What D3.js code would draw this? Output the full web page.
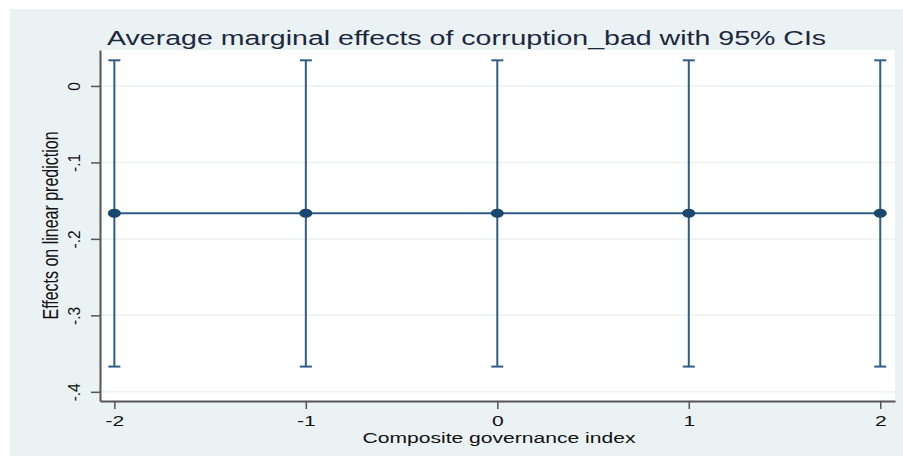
<!DOCTYPE html>
<html><head><meta charset="utf-8">
<script src="https://cdn.jsdelivr.net/npm/d3@7"></script>
<style>body{margin:0;background:#fff}svg{display:block}text{font-family:"Liberation Sans",Arial,sans-serif}</style>
</head><body><svg id="c" width="903" height="457"></svg>
<script>
const governance = [-2, -1, 0, 1, 2];
const effect = [-0.1665, -0.1665, -0.1665, -0.1665, -0.1665];
const ciLow = [-0.367, -0.367, -0.367, -0.367, -0.367];
const ciHigh = [0.0335, 0.0335, 0.0335, 0.0335, 0.0335];
const yTicks = [0, -0.1, -0.2, -0.3, -0.4];
const xTicks = [-2, -1, 0, 1, 2];
const title = "Average marginal effects of corruption_bad with 95% CIs";
const xTitle = "Composite governance index";
const yTitle = "Effects on linear prediction";

const svg = d3.select("#c");
const W = 903, H = 457;
const plot = {l: 100, r: 895, t: 50, b: 401};
const bg = "#eaf2f3", navy = "#1a476f", lineC = "#2f5d88";
const SX = 1.36; // horizontal stretch of text in the reference

svg.append("rect").attr("x",10).attr("y",9).attr("width",W-10).attr("height",H-10).attr("fill",bg);
svg.append("rect").attr("x",plot.l).attr("y",plot.t).attr("width",plot.r-plot.l).attr("height",plot.b-plot.t).attr("fill","#fff");

const x = d3.scaleLinear().domain([-2.075, 2.077]).range([plot.l, plot.r]);
const y = d3.scaleLinear().domain([-0.412, 0.047]).range([plot.b, plot.t]);

// gridlines
svg.append("g").selectAll("line").data(yTicks).join("line")
  .attr("x1",plot.l).attr("x2",plot.r).attr("y1",d=>y(d)).attr("y2",d=>y(d))
  .attr("stroke",bg).attr("stroke-width",1.5);

// y axis
const fmt = d => d===0 ? "0" : ("-" + String(Math.abs(d)).replace(/^0/,""));
const ya = svg.append("g").attr("transform",`translate(${plot.l},0)`)
  .call(d3.axisLeft(y).tickValues(yTicks).tickSize(9).tickSizeOuter(0).tickFormat(fmt));
ya.select(".domain").attr("stroke","#555").attr("stroke-width",2);
ya.selectAll(".tick line").attr("stroke","#555").attr("stroke-width",1.5);
ya.selectAll(".tick text").attr("transform","rotate(-90) scale(1,1.1)").attr("x",0).attr("y",-20/1.1)
  .attr("dy",0).attr("text-anchor","middle").attr("font-size",15.5).attr("fill","#111")
  .attr("font-family","Liberation Sans, Arial, sans-serif");

// x axis
const xa = svg.append("g").attr("transform",`translate(0,${plot.b})`)
  .call(d3.axisBottom(x).tickValues(xTicks).tickSize(8).tickSizeOuter(0).tickFormat(d=>String(d)));
xa.select(".domain").attr("stroke","#555").attr("stroke-width",2);
xa.selectAll(".tick line").attr("stroke","#555").attr("stroke-width",1.5);
xa.selectAll(".tick text").attr("y",25).attr("dy",0).attr("transform",`scale(${SX},1)`)
  .attr("font-size",15.5).attr("fill","#111")
  .attr("font-family","Liberation Sans, Arial, sans-serif");

// titles
svg.append("text").attr("transform",`translate(107,44.5) scale(${SX},1)`)
  .attr("font-size",21).attr("fill","#1c2740").text(title);
svg.append("text").attr("transform",`translate(499,443) scale(${SX},1)`).attr("text-anchor","middle")
  .attr("font-size",15.5).attr("fill","#111").text(xTitle);
svg.append("text").attr("transform",`translate(58,${(plot.t+plot.b)/2}) rotate(-90) scale(1,${SX})`).attr("text-anchor","middle")
  .attr("font-size",16).attr("fill","#111").text(yTitle);

const data = governance.map((g,i)=>({g, e:effect[i], lo:ciLow[i], hi:ciHigh[i]}));

// CI bars
const ci = svg.append("g").attr("stroke",lineC).attr("stroke-width",2).attr("fill","none");
ci.selectAll("line.v").data(data).join("line").attr("class","v")
  .attr("x1",d=>x(d.g)).attr("x2",d=>x(d.g)).attr("y1",d=>y(d.hi)).attr("y2",d=>y(d.lo));
ci.selectAll("line.t").data(data).join("line").attr("class","t")
  .attr("x1",d=>x(d.g)-6).attr("x2",d=>x(d.g)+6).attr("y1",d=>y(d.hi)).attr("y2",d=>y(d.hi));
ci.selectAll("line.b").data(data).join("line").attr("class","b")
  .attr("x1",d=>x(d.g)-6).attr("x2",d=>x(d.g)+6).attr("y1",d=>y(d.lo)).attr("y2",d=>y(d.lo));

// connecting line
svg.append("path").datum(data).attr("fill","none").attr("stroke",lineC).attr("stroke-width",2)
  .attr("d", d3.line().x(d=>x(d.g)).y(d=>y(d.e)));

// markers
svg.append("g").selectAll("ellipse").data(data).join("ellipse")
  .attr("cx",d=>x(d.g)).attr("cy",d=>y(d.e)).attr("rx",6.5).attr("ry",4.5).attr("fill",navy);
</script></body></html>
